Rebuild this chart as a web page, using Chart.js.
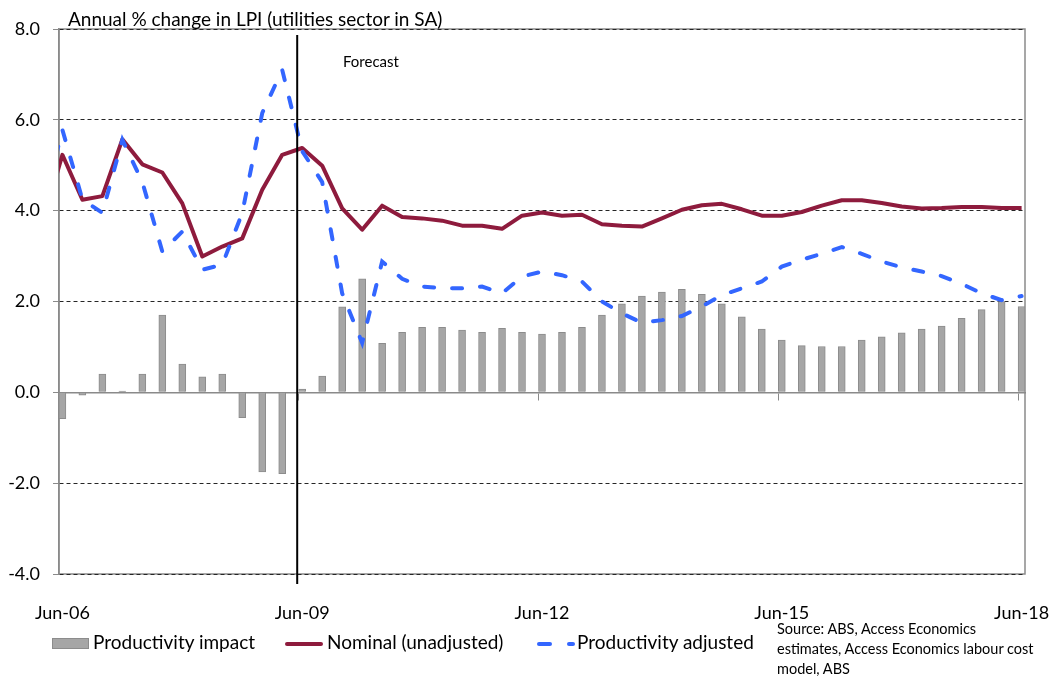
<!DOCTYPE html>
<html>
<head>
<meta charset="utf-8">
<script src="https://cdn.jsdelivr.net/npm/chart.js@4.4.1/dist/chart.umd.min.js"></script>
<style>
  body { margin: 0; background: #fff; }
  #wrap { position: relative; width: 1053px; height: 679px; font-family: Lato, sans-serif; color: #000; }
  #wrap div, #wrap span { position: absolute; white-space: nowrap; }
  .title { left: 68px; top: 8px; font-size: 19px; line-height: 22px; }
  .note { left: 343px; top: 52px; font-size: 15px; line-height: 18px; }
  .lg { font-size: 19px; line-height: 22px; top: 631px; }
  .src { left: 777px; top: 619px; font-size: 14.5px; line-height: 20px; }
  .box { left: 52px; top: 638px; width: 35px; height: 9px; background: #a6a6a6; border: 1px solid #8c8c8c; }
  .red { left: 285px; top: 642px; width: 38px; height: 4px; border-radius: 2px; background: #8e1b3d; }
  .dash { top: 642px; height: 4px; border-radius: 2px; background: #3366ff; }
</style>
</head>
<body>
<div id="wrap">
  <canvas id="chart" width="1053" height="679"></canvas>
  <div class="title">Annual % change in LPI (utilities sector in SA)</div>
  <div class="note">Forecast</div>
  <span class="box"></span><div class="lg" style="left:93px">Productivity impact</div>
  <span class="red"></span><div class="lg" style="left:327px">Nominal (unadjusted)</div>
  <span class="dash" style="left:537px;width:15px"></span><span class="dash" style="left:567px;width:8px"></span>
  <div class="lg" style="left:577px">Productivity adjusted</div>
  <div class="src">Source: ABS, Access Economics<br>estimates, Access Economics labour cost<br>model, ABS</div>
</div>
<script>
// quarterly, Mar-06 .. Jun-18
const quarters = [
  'Mar-06','Jun-06','Sep-06','Dec-06',
  'Mar-07','Jun-07','Sep-07','Dec-07',
  'Mar-08','Jun-08','Sep-08','Dec-08',
  'Mar-09','Jun-09','Sep-09','Dec-09',
  'Mar-10','Jun-10','Sep-10','Dec-10',
  'Mar-11','Jun-11','Sep-11','Dec-11',
  'Mar-12','Jun-12','Sep-12','Dec-12',
  'Mar-13','Jun-13','Sep-13','Dec-13',
  'Mar-14','Jun-14','Sep-14','Dec-14',
  'Mar-15','Jun-15','Sep-15','Dec-15',
  'Mar-16','Jun-16','Sep-16','Dec-16',
  'Mar-17','Jun-17','Sep-17','Dec-17',
  'Mar-18','Jun-18'
];
const tickQuarters = ['Jun-06','Jun-09','Jun-12','Jun-15','Jun-18'];

const productivityImpact = [null,
  -0.58, -0.06, 0.40, 0.03, 0.40, 1.70, 0.62, 0.34, 0.40, -0.56,
  -1.75, -1.79, 0.07, 0.36, 1.88, 2.50, 1.08, 1.32, 1.43, 1.43,
  1.37, 1.32, 1.41, 1.32, 1.28, 1.32, 1.43, 1.70, 1.95, 2.12,
  2.21, 2.27, 2.16, 1.95, 1.66, 1.39, 1.15, 1.03, 1.01, 1.01,
  1.15, 1.22, 1.31, 1.39, 1.46, 1.63, 1.82, 2.00, 1.89];
const nominal = [3.70,
  5.23, 4.24, 4.32, 5.57, 5.02, 4.84, 4.16, 2.99, 3.21, 3.39,
  4.46, 5.23, 5.38, 4.99, 4.05, 3.58, 4.11, 3.86, 3.83, 3.78,
  3.67, 3.67, 3.60, 3.89, 3.96, 3.89, 3.91, 3.70, 3.67, 3.65,
  3.83, 4.02, 4.12, 4.15, 4.03, 3.89, 3.89, 3.97, 4.11, 4.23,
  4.23, 4.17, 4.09, 4.05, 4.06, 4.08, 4.08, 4.06, 4.06];
const adjusted = [4.00,
  5.78, 4.25, 3.95, 5.56, 4.63, 3.10, 3.54, 2.70, 2.81, 3.95,
  6.15, 7.10, 5.31, 4.63, 2.18, 1.09, 2.88, 2.50, 2.33, 2.29,
  2.29, 2.33, 2.18, 2.55, 2.66, 2.58, 2.44, 2.00, 1.74, 1.53,
  1.59, 1.68, 1.89, 2.14, 2.29, 2.44, 2.77, 2.92, 3.05, 3.20,
  3.05, 2.88, 2.75, 2.66, 2.56, 2.39, 2.18, 2.03, 2.12];

const forecastFrom = 12.75;   // forecast period begins just before Jun-09
const xMin = 0.83, xMax = 49.17;

const pts = arr => arr.map((y, i) => ({ x: i, y }));
const labelTicks = tickQuarters.map(q => quarters.indexOf(q));

Chart.defaults.font.family = 'Lato, sans-serif';
Chart.defaults.color = '#000';

const frame = {
  id: 'frame',
  beforeDraw(chart) {
    const { ctx, chartArea: a } = chart;
    ctx.save();
    ctx.strokeStyle = '#8a8a8a';
    ctx.lineWidth = 1.5;
    ctx.strokeRect(a.left, a.top, a.width, a.height);
    ctx.restore();
  },
  afterDatasetsDraw(chart) {
    const { ctx, chartArea: a, scales: { x } } = chart;
    const px = x.getPixelForValue(forecastFrom);
    ctx.save();
    ctx.strokeStyle = '#000';
    ctx.lineWidth = 2;
    ctx.beginPath();
    ctx.moveTo(px, a.top + 6);
    ctx.lineTo(px, a.bottom + 10);
    ctx.stroke();
    ctx.restore();
  }
};

new Chart(document.getElementById('chart'), {
  data: {
    datasets: [
      {
        type: 'line', label: 'Productivity adjusted', data: pts(adjusted), order: 0,
        borderColor: '#3366ff', borderWidth: 4, borderDash: [10, 18], borderCapStyle: 'round',
        pointRadius: 0, tension: 0, clip: 0
      },
      {
        type: 'line', label: 'Nominal (unadjusted)', data: pts(nominal), order: 1,
        borderColor: '#8e1b3d', borderWidth: 4, borderJoinStyle: 'round',
        pointRadius: 0, tension: 0, clip: 0
      },
      {
        type: 'bar', label: 'Productivity impact', data: pts(productivityImpact), order: 2,
        backgroundColor: '#a6a6a6', borderColor: '#8c8c8c', borderWidth: 1, barThickness: 7
      }
    ]
  },
  options: {
    responsive: false,
    animation: false,
    layout: { padding: { top: 29, right: 28, left: 0, bottom: 0 } },
    plugins: { legend: { display: false }, tooltip: { enabled: false } },
    scales: {
      x: {
        type: 'linear', position: 'bottom', min: xMin, max: xMax, offset: false,
        grid: { display: false, offset: false }, border: { display: false },
        afterBuildTicks: s => { s.ticks = labelTicks.map(v => ({ value: v })); },
        // labels may hang past the plot edge; keep the plot width fixed
        afterFit: s => { s.height = 105; s.paddingLeft = 0; s.paddingRight = 0; },
        ticks: { font: { size: 18 }, padding: 20, maxRotation: 0, autoSkip: false,
                 callback: v => quarters[v] }
      },
      x0: {
        type: 'linear', axis: 'x', position: { y: 0 }, min: xMin, max: xMax, offset: false,
        grid: { drawOnChartArea: false, drawTicks: true, tickLength: 7, tickColor: '#8a8a8a', tickWidth: 1, offset: false },
        border: { color: '#8a8a8a', width: 1.5 },
        afterBuildTicks: s => { s.ticks = labelTicks.map(v => ({ value: v - 1 + xMin })); },
        afterFit: s => { s.paddingLeft = 0; s.paddingRight = 0; },
        ticks: { display: false }
      },
      y: {
        min: -4, max: 8,
        afterFit: s => { s.width = 59; },
        ticks: { stepSize: 2, font: { size: 18 }, padding: 13, callback: v => v.toFixed(1) },
        grid: {
          color: c => c.tick && c.tick.value === 0 ? 'rgba(0,0,0,0)' : '#262626',
          lineWidth: 1, drawTicks: true, tickLength: 6, tickColor: '#8a8a8a', tickWidth: 1
        },
        border: { display: true, color: '#8a8a8a', width: 1.5, dash: [4, 3] }
      }
    }
  },
  plugins: [frame]
});
</script>
</body>
</html>
